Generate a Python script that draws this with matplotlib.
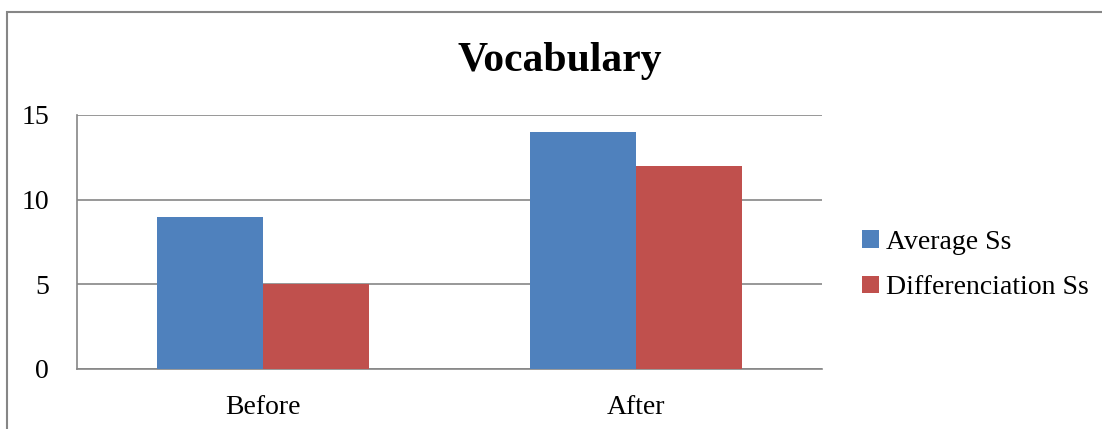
import matplotlib.pyplot as plt
import numpy as np
from matplotlib.patches import Rectangle

categories = ['Before', 'After']
average_ss = [9, 14]
differenciation_ss = [5, 12]
yticks = [0, 5, 10, 15]

W, H = 1102, 429
fig = plt.figure(figsize=(W / 100, H / 100), dpi=100)
fig.patch.set_facecolor('white')
plt.rcParams['font.family'] = ['Liberation Serif', 'DejaVu Serif']

# outer chart border (right and bottom edges cut off in the reference)
fig.add_artist(Rectangle((7 / W, -0.1), 1.2, 1.1 - 12 / H,
                         transform=fig.transFigure, fill=False,
                         edgecolor='#868686', linewidth=1.5))

ax = fig.add_axes([77 / W, 1 - 369 / H, (822 - 77) / W, (369 - 115) / H])
x = np.arange(len(categories))
w = 0.285
ax.bar(x - w / 2, average_ss, w, color='#4F81BD', label='Average Ss', zorder=3)
ax.bar(x + w / 2, differenciation_ss, w, color='#C0504D', label='Differenciation Ss', zorder=3)

ax.set_xlim(-0.5, 1.5)
ax.set_ylim(0, 15)
ax.set_yticks(yticks)
ax.set_yticklabels([str(t) for t in yticks], fontsize=20)
ax.set_xticks(x)
ax.set_xticklabels(categories, fontsize=20)
ax.tick_params(length=0)
ax.tick_params(axis='y', pad=20)
ax.tick_params(axis='x', pad=19)
ax.yaxis.grid(True, color='#868686', linewidth=1.2, zorder=0)
for s in ['top', 'right']:
    ax.spines[s].set_visible(False)
for s in ['left', 'bottom']:
    ax.spines[s].set_color('#868686')
    ax.spines[s].set_linewidth(1.2)

fig.text(560 / W, 1 - 61 / H, 'Vocabulary', fontsize=30, fontweight='bold',
         ha='center', va='center')

fig.legend(loc='center left', bbox_to_anchor=(837 / W, 1 - 265 / H),
           frameon=False, fontsize=20, handlelength=0.6, handleheight=0.6,
           handletextpad=0.25, labelspacing=0.75)

plt.savefig('out.png', dpi=100, facecolor='white')
